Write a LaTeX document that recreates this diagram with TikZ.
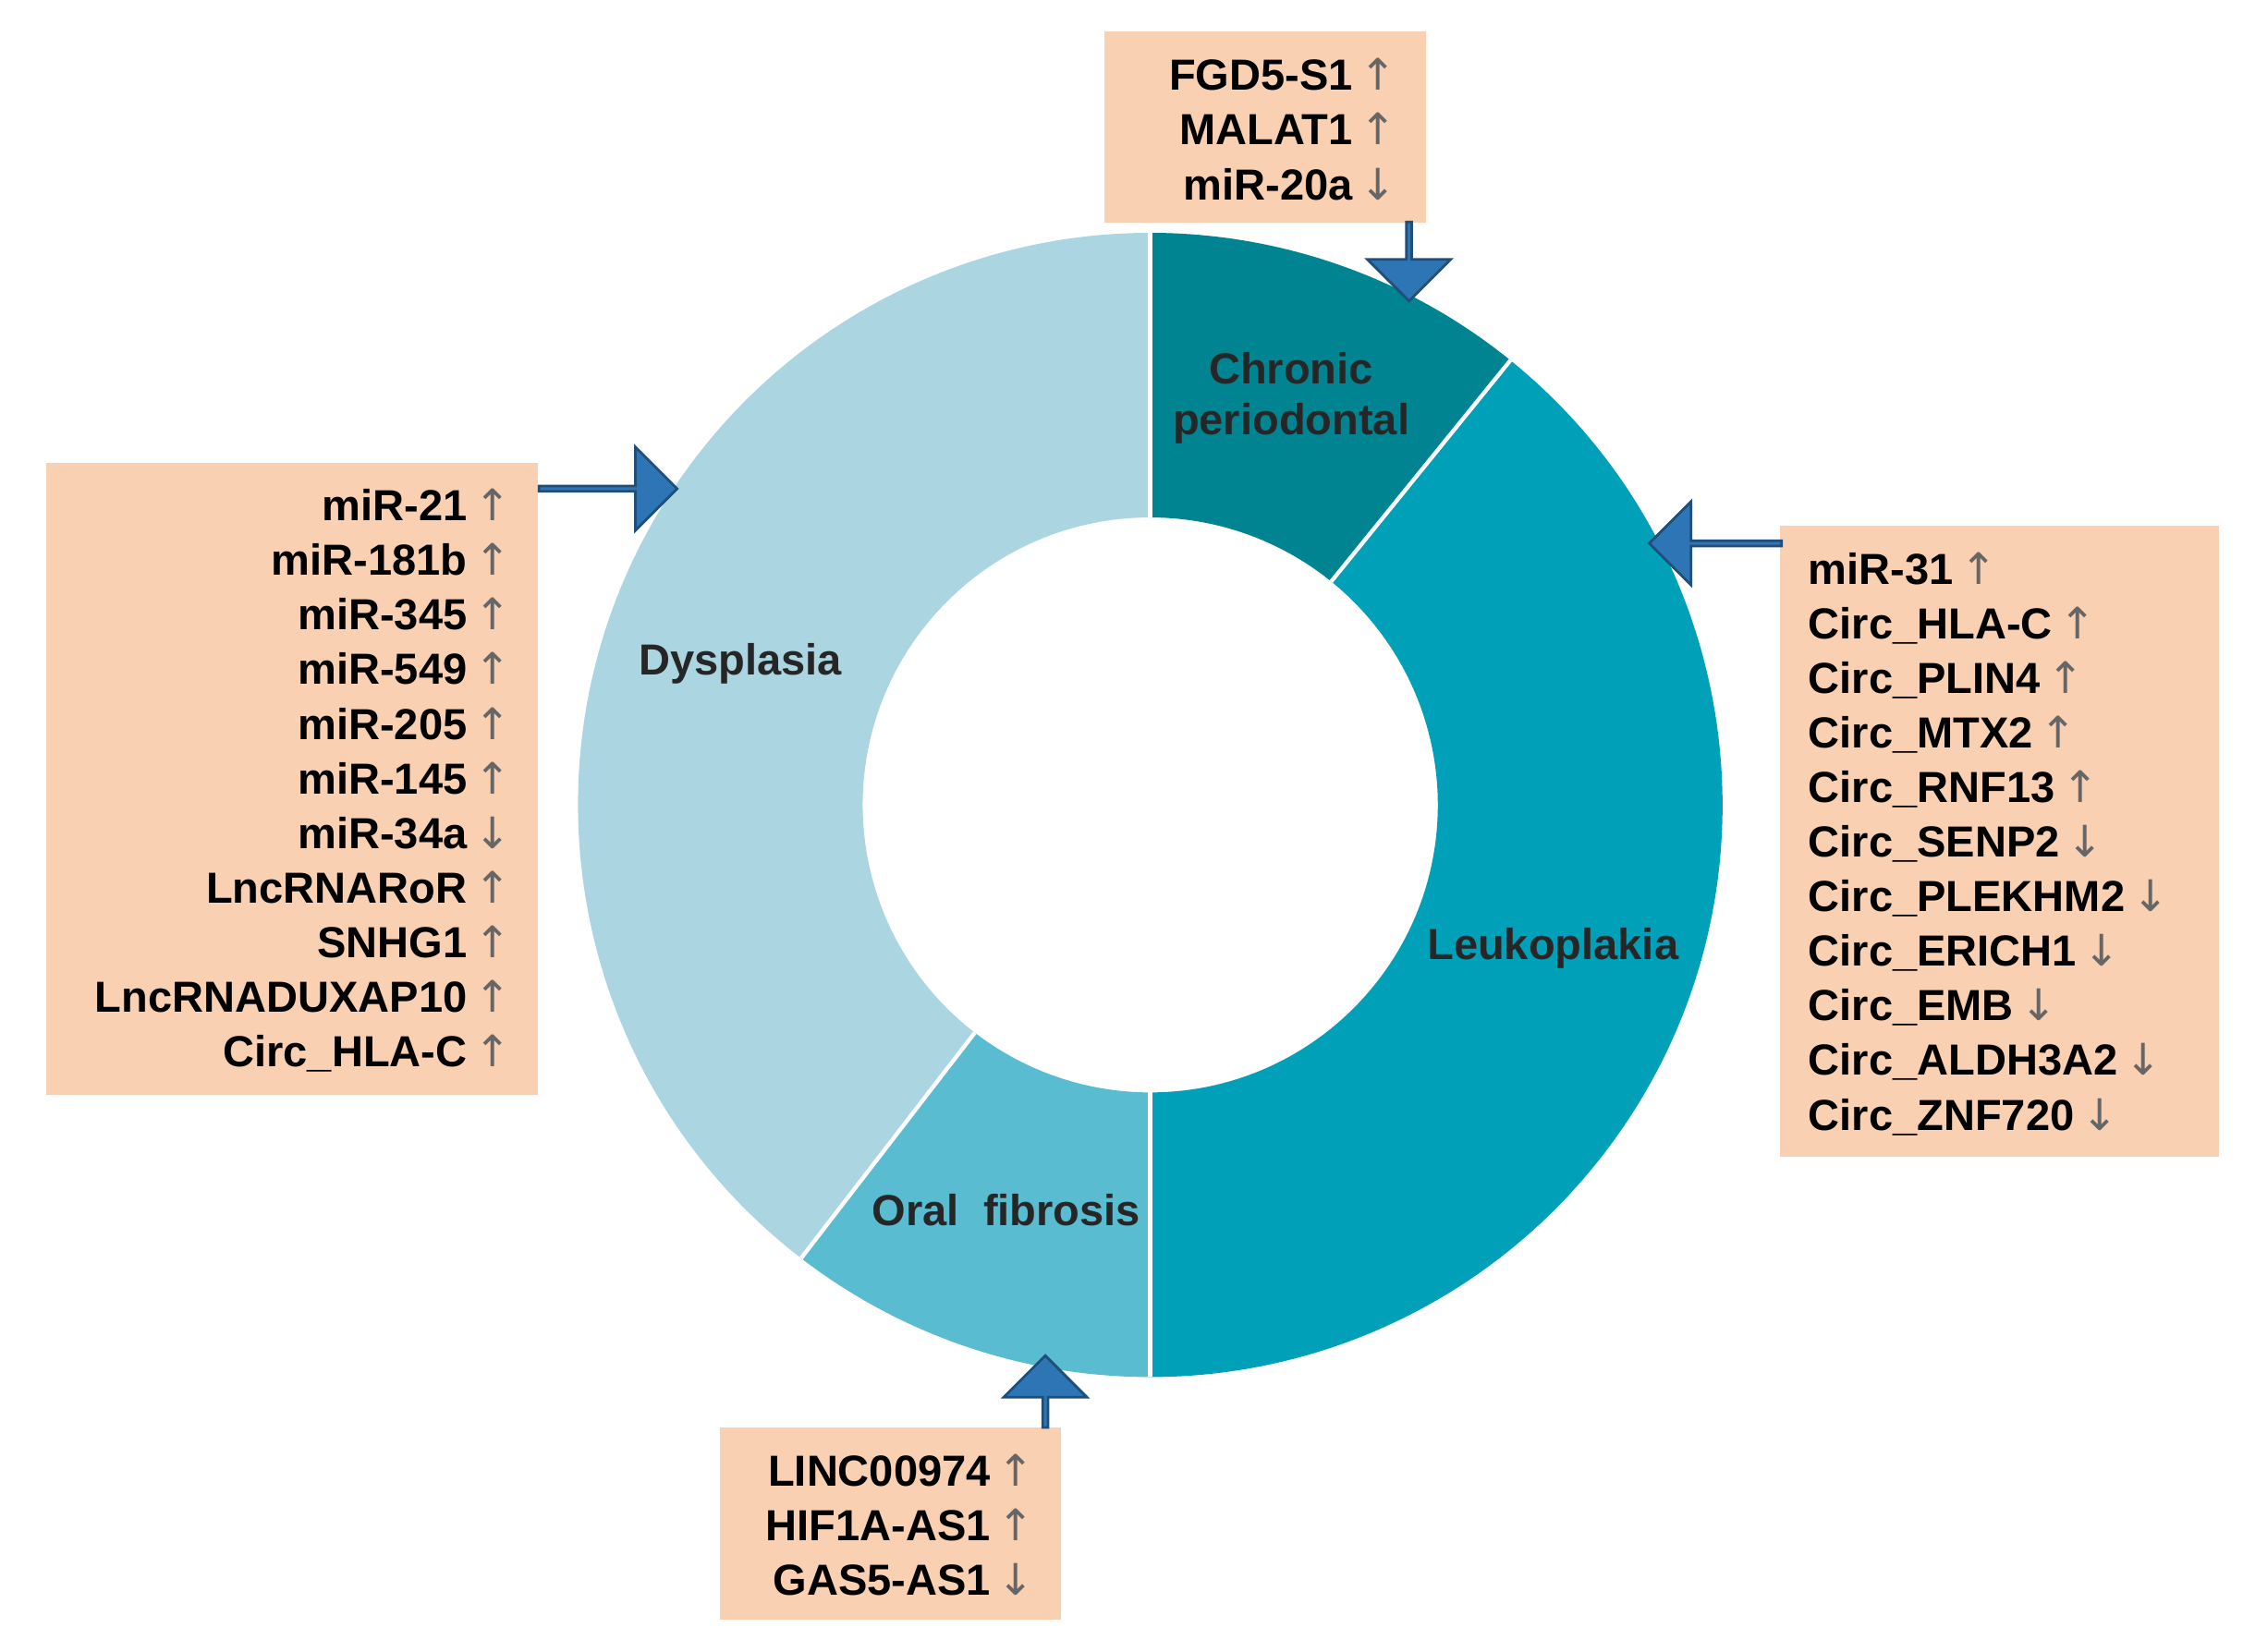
\documentclass[tikz,border=0pt]{standalone}
\usepackage{fontspec}
\setmainfont{Liberation Sans}
\newfontfamily\arrfont{DejaVu Sans}
\usetikzlibrary{shapes.arrows,calc}
\definecolor{cChr}{RGB}{0,132,145}
\definecolor{cLeu}{RGB}{0,160,184}
\definecolor{cOra}{RGB}{90,188,208}
\definecolor{cDys}{RGB}{170,213,225}
\definecolor{peach}{RGB}{250,208,178}
\definecolor{barr}{RGB}{46,117,182}
\definecolor{barrd}{RGB}{31,78,121}
\newcommand{\upa}{{\arrfont\mdseries\color{black!60}\,↑}}
\newcommand{\dna}{{\arrfont\mdseries\color{black!60}\,↓}}
\tikzset{
 box/.style={fill=peach,draw=none},
 lst/.style={font=\fontsize{8.6}{10.8}\selectfont\bfseries,inner sep=0pt},
 lab/.style={font=\fontsize{8.6}{10}\selectfont\bfseries,align=center,text=black!85},
 barrow/.style={single arrow,fill=barr,draw=barrd,line width=0.5pt,single arrow head extend=0.13cm,minimum width=0.58cm,inner sep=0pt}
}
\begin{document}
\begin{tikzpicture}[x=0.01cm,y=0.01cm]
\useasboundingbox (0,0) rectangle (1560,1149);
% donut
\def\ro{398}\def\ri{200}
\coordinate (c) at (800,589);
\fill[cChr] (c) ++(90:\ro) arc (90:51:\ro) -- ($(c)+(51:\ri)$) arc (51:90:\ri) -- cycle;
\fill[cLeu] (c) ++(51:\ro) arc (51:-90:\ro) -- ($(c)+(-90:\ri)$) arc (-90:51:\ri) -- cycle;
\fill[cOra] (c) ++(-90:\ro) arc (-90:-127.6:\ro) -- ($(c)+(-127.6:\ri)$) arc (-127.6:-90:\ri) -- cycle;
\fill[cDys] (c) ++(-127.6:\ro) arc (-127.6:-270:\ro) -- ($(c)+(90:\ri)$) arc (90:232.4:\ri) -- cycle;
\foreach \a in {90,51,-90,-127.6}
  \draw[white,line width=0.8pt] ($(c)+(\a:\ri)$) -- ($(c)+(\a:\ro)$);
\node[lab] (chr) at (898,872) {Chronic\\periodontal};
\node[lab] (dys) at (515,687) {Dysplasia};
\node[lab] (leu) at (1080,489) {Leukoplakia};
\node[lab] (ora) at (700,307) {Oral\ \ fibrosis};
% boxes
\fill[box] (768,994) rectangle (992,1127);
\fill[box] (32,387) rectangle (374,827);
\fill[box] (1238,344) rectangle (1543,783);
\fill[box] (501,22) rectangle (738,156);
\node[lst,align=right,anchor=east] (tl) at (972,1059) {FGD5-S1\upa\\MALAT1\upa\\miR-20a\dna};
\node[lst,align=right,anchor=east] (ll) at (356,606) {miR-21\upa\\miR-181b\upa\\miR-345\upa\\miR-549\upa\\miR-205\upa\\miR-145\upa\\miR-34a\dna\\LncRNARoR\upa\\SNHG1\upa\\LncRNADUXAP10\upa\\Circ\_HLA-C\upa};
\node[lst,align=left,anchor=west] (rl) at (1257,562) {miR-31\upa\\Circ\_HLA-C\upa\\Circ\_PLIN4\upa\\Circ\_MTX2\upa\\Circ\_RNF13\upa\\Circ\_SENP2\dna\\Circ\_PLEKHM2\dna\\Circ\_ERICH1\dna\\Circ\_EMB\dna\\Circ\_ALDH3A2\dna\\Circ\_ZNF720\dna};
\node[lst,align=right,anchor=east] (bl) at (720,88) {LINC00974\upa\\HIF1A-AS1\upa\\GAS5-AS1\dna};
% block arrows
\node[barrow,minimum height=0.55cm,rotate=-90] (a1) at (980,968) {};
\node[barrow,minimum height=0.96cm] (a2) at (422,809) {};
\node[barrow,minimum height=0.92cm,rotate=180] (a3) at (1194,771) {};
\node[barrow,minimum height=0.50cm,rotate=90] (a4) at (727,180) {};
\end{tikzpicture}
\end{document}
